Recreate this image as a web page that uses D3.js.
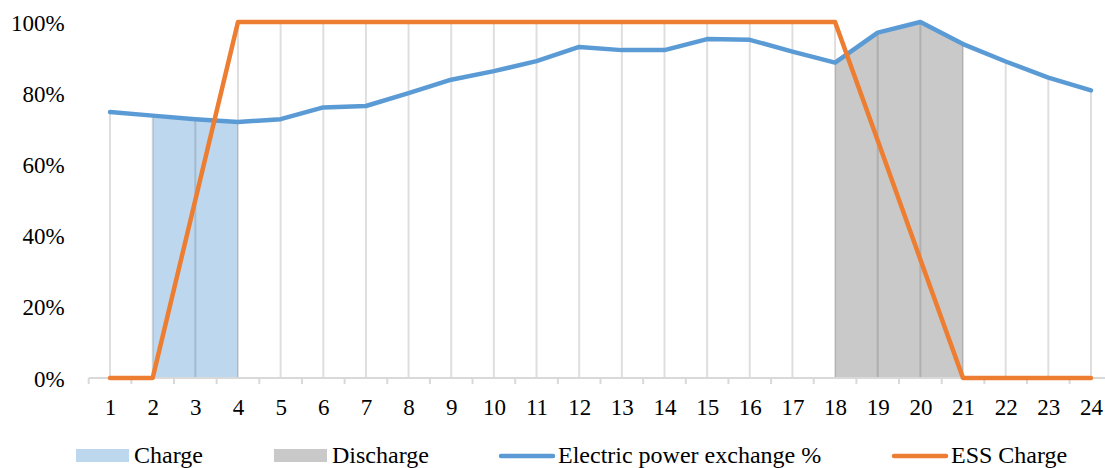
<!DOCTYPE html>
<html>
<head>
<meta charset="utf-8">
<script src="https://cdn.jsdelivr.net/npm/d3@7"></script>
<style>
  html, body { margin: 0; padding: 0; background: #fff; }
  svg { display: block; }
  svg text { font-family: "Liberation Serif", "Times New Roman", Times, "DejaVu Serif", serif !important; fill: #000; }
</style>
</head>
<body>
<svg id="chart" width="1105" height="468"></svg>
<script>
// Hours of the day
const hours = d3.range(1, 25).map(String);

// Electric power exchange, share of peak (per hour)
const exchange = [0.747, 0.737, 0.727, 0.719, 0.727, 0.760, 0.764, 0.800, 0.838,
                  0.862, 0.890, 0.930, 0.921, 0.921, 0.952, 0.950, 0.917, 0.886,
                  0.970, 1.000, 0.938, 0.889, 0.844, 0.808];

// Energy storage state of charge (per hour)
const essCharge = [0, 0, 0.5, 1, 1, 1, 1, 1, 1, 1, 1, 1, 1, 1, 1, 1, 1, 1,
                   0.667, 0.333, 0, 0, 0, 0];

// Hours during which the storage charges / discharges
const chargeHours = ["2", "3", "4"];
const dischargeHours = ["18", "19", "20", "21"];

const yTicks = [0, 0.2, 0.4, 0.6, 0.8, 1.0];

const legendItems = [
  { label: "Charge", kind: "rect", color: "#BDD7EE", x: 76 },
  { label: "Discharge", kind: "rect", color: "#C9C9C9", x: 274 },
  { label: "Electric power exchange %", kind: "line", color: "#5B9BD5", x: 500 },
  { label: "ESS Charge", kind: "line", color: "#ED7D31", x: 893 }
];

const svg = d3.select("#chart");
const FONT = "23px";
const LEGEND_FONT = "24px";
const SERIF = '"Liberation Serif", "Times New Roman", Times, "DejaVu Serif", serif';

const x = d3.scaleBand().domain(hours).range([88.7, 88.7 + 24 * 42.65]).paddingInner(0).paddingOuter(0);
const cx = h => x(h) + x.bandwidth() / 2;
const y = d3.scaleLinear().domain([0, 1]).range([378, 22]);

const rows = hours.map((h, i) => ({ h, ex: exchange[i], ess: essCharge[i] }));
const byHour = new Map(rows.map(r => [r.h, r]));

// Shaded charge / discharge periods under the exchange curve
const area = d3.area().x(d => cx(d.h)).y0(y(0)).y1(d => y(d.ex));
svg.append("path").datum(chargeHours.map(h => byHour.get(h)))
  .attr("d", area).attr("fill", "#BDD7EE");
svg.append("path").datum(dischargeHours.map(h => byHour.get(h)))
  .attr("d", area).attr("fill", "#C9C9C9");

// Drop lines from the higher series down to the axis
svg.append("g").selectAll("line").data(rows).join("line")
  .attr("x1", d => cx(d.h)).attr("x2", d => cx(d.h))
  .attr("y1", d => y(Math.max(d.ex, d.ess))).attr("y2", y(0))
  .attr("stroke", "#000").attr("stroke-opacity", 0.13).attr("stroke-width", 2);

// Category axis: baseline, boundary ticks, hour labels
const axisG = svg.append("g");
axisG.append("line")
  .attr("x1", x.range()[0]).attr("x2", x.range()[1])
  .attr("y1", y(0)).attr("y2", y(0))
  .attr("stroke", "#D9D9D9").attr("stroke-width", 2);
const bounds = hours.map(h => x(h)).concat([x.range()[1]]);
axisG.selectAll("line.tick").data(bounds).join("line")
  .attr("class", "tick")
  .attr("x1", d => d).attr("x2", d => d)
  .attr("y1", y(0)).attr("y2", y(0) + 6)
  .attr("stroke", "#D9D9D9").attr("stroke-width", 2);

const xAxis = d3.axisBottom(d3.scalePoint().domain(hours).range([cx("1"), cx("24")]))
  .tickSize(0).tickPadding(0);
const xg = svg.append("g").attr("transform", `translate(0,${y(0)})`).call(xAxis)
  .attr("font-family", SERIF).attr("font-size", FONT);
xg.select(".domain").remove();
xg.selectAll("text").attr("y", 37).attr("dy", null).attr("fill", "#000");

// Value axis labels
const yAxis = d3.axisLeft(y).tickValues(yTicks).tickFormat(d3.format(".0%")).tickSize(0).tickPadding(24);
const yg = svg.append("g").attr("transform", `translate(${x.range()[0]},0)`).call(yAxis)
  .attr("font-family", SERIF).attr("font-size", FONT);
yg.select(".domain").remove();
yg.selectAll("text").attr("dy", "0.35em").attr("fill", "#000");

// Series lines
const lineEx = d3.line().x(d => cx(d.h)).y(d => y(d.ex));
const lineEss = d3.line().x(d => cx(d.h)).y(d => y(d.ess));
svg.append("path").datum(rows).attr("d", lineEx)
  .attr("fill", "none").attr("stroke", "#5B9BD5").attr("stroke-width", 4.5)
  .attr("stroke-linejoin", "round").attr("stroke-linecap", "round");
svg.append("path").datum(rows).attr("d", lineEss)
  .attr("fill", "none").attr("stroke", "#ED7D31").attr("stroke-width", 4.5)
  .attr("stroke-linejoin", "round").attr("stroke-linecap", "round");

// Legend
const leg = svg.append("g").attr("font-family", SERIF).attr("font-size", LEGEND_FONT)
  .selectAll("g").data(legendItems).join("g")
  .attr("transform", d => `translate(${d.x},0)`);
leg.filter(d => d.kind === "rect").append("rect")
  .attr("x", 0).attr("y", 449).attr("width", 53).attr("height", 13)
  .attr("fill", d => d.color);
leg.filter(d => d.kind === "line").append("line")
  .attr("x1", 1).attr("x2", 53).attr("y1", 456).attr("y2", 456)
  .attr("stroke", d => d.color).attr("stroke-width", 4.5).attr("stroke-linecap", "round");
leg.append("text").attr("x", 58).attr("y", 463).text(d => d.label);
</script>
</body>
</html>
